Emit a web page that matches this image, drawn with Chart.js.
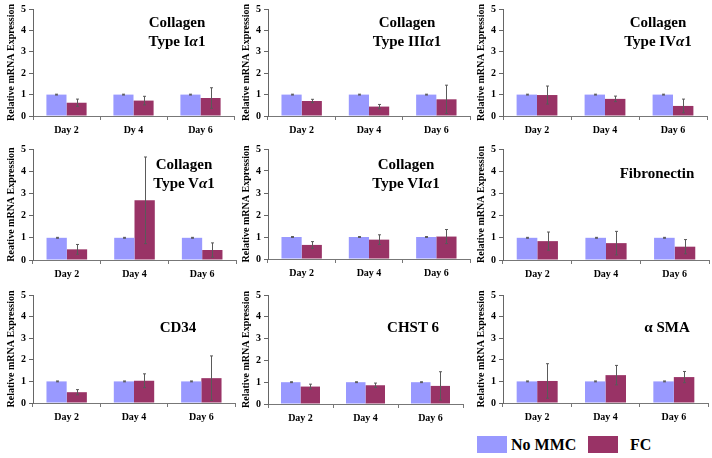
<!DOCTYPE html>
<html>
<head>
<meta charset="utf-8">
<script src="https://cdn.jsdelivr.net/npm/chart.js@4"></script>
<style>
    body { margin: 0; background: #fff; width: 712px; height: 458px; position: relative; overflow: hidden; font-family: "Liberation Serif", serif; }
    canvas { position: absolute; }
    .title { position: absolute; font-weight: bold; font-size: 15px; line-height: 19px; text-align: center; white-space: nowrap; transform: translateX(-50%); color: #000; }
    .key { position: absolute; width: 30px; height: 17px; }
    .keytext { position: absolute; font-weight: bold; font-size: 16px; line-height: 17px; color: #000; }
</style>
</head>
<body>
<div class="key" style="left:477px;top:436px;background:#9999ff"></div>
<div class="keytext" style="left:511px;top:436px">No MMC</div>
<div class="key" style="left:588px;top:436px;background:#993366"></div>
<div class="keytext" style="left:630px;top:436px">FC</div>
<script>
// categories
const days = ["Day 2", "Day 4", "Day 6"];
const daysTypo = ["Day 2", "Dy 4", "Day 6"];

// control group (normalised to 1)
const noMmcValues = [1, 1, 1];
const noMmcErr = [0.02, 0.02, 0.02];

// FC group, per gene
const col1Fc = [0.62, 0.72, 0.84];
const col1Err = [0.17, 0.2, 0.48];
const col3Fc = [0.7, 0.44, 0.78];
const col3Err = [0.08, 0.1, 0.66];
const col4Fc = [0.98, 0.8, 0.47];
const col4Err = [0.42, 0.13, 0.32];
const col5Fc = [0.48, 2.69, 0.45];
const col5Err = [0.22, 1.95, 0.32];
const col6Fc = [0.64, 0.88, 1.02];
const col6Err = [0.15, 0.22, 0.32];
const fibFc = [0.85, 0.76, 0.6];
const fibErr = [0.41, 0.53, 0.32];
const cd34Fc = [0.5, 1.03, 1.15];
const cd34Err = [0.12, 0.32, 1.03];
const chstFc = [0.8, 0.86, 0.83];
const chstErr = [0.11, 0.1, 0.65];
const smaFc = [1.02, 1.29, 1.2];
const smaErr = [0.8, 0.45, 0.26];

// y axis ticks
const yMin = 0;
const yMax = 5;
const yStep = 1;

const yTitle = "Relative mRNA Expression";
const yTitleTypo = "Reative mRNA Expression";

const panels = [
    { fc: col1Fc, err: col1Err, labels: daysTypo, yLabel: yTitle, title: ["Collagen", "Type I<i>α</i>1"],
      left: 33, right: 234, top: 8, bottom: 116, tx: 177, ty: 13 },
    { fc: col3Fc, err: col3Err, labels: days, yLabel: yTitle, title: ["Collagen", "Type III<i>α</i>1"],
      left: 268, right: 470, top: 8, bottom: 116, tx: 407, ty: 13 },
    { fc: col4Fc, err: col4Err, labels: days, yLabel: yTitle, title: ["Collagen", "Type IV<i>α</i>1"],
      left: 503, right: 707, top: 8, bottom: 116, tx: 658, ty: 13 },
    { fc: col5Fc, err: col5Err, labels: days, yLabel: yTitleTypo, title: ["Collagen", "Type V<i>α</i>1"],
      left: 33, right: 236, top: 148, bottom: 260, tx: 184, ty: 155 },
    { fc: col6Fc, err: col6Err, labels: days, yLabel: yTitle, title: ["Collagen", "Type VI<i>α</i>1"],
      left: 268, right: 470, top: 148, bottom: 259, tx: 406, ty: 155 },
    { fc: fibFc, err: fibErr, labels: days, yLabel: yTitle, title: ["Fibronectin"],
      left: 503, right: 709, top: 148, bottom: 260, tx: 657, ty: 164 },
    { fc: cd34Fc, err: cd34Err, labels: days, yLabel: yTitle, title: ["CD34"],
      left: 33, right: 235, top: 294, bottom: 403, tx: 178, ty: 318 },
    { fc: chstFc, err: chstErr, labels: days, yLabel: yTitle, title: ["CHST 6"],
      left: 268, right: 463, top: 294, bottom: 404, tx: 413, ty: 318 },
    { fc: smaFc, err: smaErr, labels: days, yLabel: yTitle, title: ["α SMA"],
      left: 503, right: 708, top: 294, bottom: 403, tx: 667, ty: 318 }
];

const AXIS_W = 33;
const XAXIS_H = 30;
const PAD_TOP = 8;
const PAD_RIGHT = 4;

const errorBarPlugin = {
    id: "errorBars",
    afterDatasetsDraw(chart) {
        const ctx = chart.ctx;
        const yScale = chart.scales.y;
        ctx.save();
        ctx.strokeStyle = "#5a5a5a";
        ctx.lineWidth = 1;
        chart.data.datasets.forEach((ds, i) => {
            if (!ds.errorBars) return;
            const meta = chart.getDatasetMeta(i);
            meta.data.forEach((bar, j) => {
                const v = ds.data[j];
                const e = ds.errorBars[j];
                const x = Math.round(bar.x) + 0.5;
                const yTop = yScale.getPixelForValue(v + e);
                const yBot = yScale.getPixelForValue(Math.max(0, v - e));
                ctx.beginPath();
                ctx.moveTo(x, yTop);
                ctx.lineTo(x, yBot);
                ctx.moveTo(x - 1.5, yTop);
                ctx.lineTo(x + 1.5, yTop);
                ctx.moveTo(x - 1.5, yBot);
                ctx.lineTo(x + 1.5, yBot);
                ctx.stroke();
            });
        });
        ctx.restore();
    }
};

function makePanel(p) {
    const canvas = document.createElement("canvas");
    const w = p.right - p.left + AXIS_W + PAD_RIGHT;
    const h = p.bottom - p.top + PAD_TOP + XAXIS_H;
    canvas.width = w;
    canvas.height = h;
    canvas.style.left = (p.left - AXIS_W) + "px";
    canvas.style.top = (p.top - PAD_TOP) + "px";
    canvas.style.width = w + "px";
    canvas.style.height = h + "px";
    document.body.appendChild(canvas);

    const title = document.createElement("div");
    title.className = "title";
    title.style.left = p.tx + "px";
    title.style.top = p.ty + "px";
    title.innerHTML = p.title.join("<br>");
    document.body.appendChild(title);

    new Chart(canvas.getContext("2d"), {
        type: "bar",
        data: {
            labels: p.labels,
            datasets: [
                {
                    label: "No MMC",
                    data: noMmcValues,
                    errorBars: noMmcErr,
                    backgroundColor: "#9999ff",
                    borderWidth: 0
                },
                {
                    label: "FC",
                    data: p.fc,
                    errorBars: p.err,
                    backgroundColor: "#993366",
                    borderWidth: 0
                }
            ]
        },
        options: {
            responsive: false,
            animation: false,
            events: [],
            layout: { padding: { top: PAD_TOP, right: PAD_RIGHT, left: 0, bottom: 0 } },
            datasets: { bar: { categoryPercentage: 0.6, barPercentage: 1.0 } },
            plugins: {
                legend: { display: false },
                tooltip: { enabled: false }
            },
            scales: {
                x: {
                    afterFit: (s) => { s.height = XAXIS_H; },
                    border: { display: true, color: "#777", width: 1 },
                    grid: { display: true, drawOnChartArea: false, tickLength: 4, color: "#777", offset: true },
                    ticks: {
                        autoSkip: false,
                        maxRotation: 0,
                        padding: 4,
                        color: "#000",
                        font: { family: "Liberation Serif", size: 10, weight: "bold" }
                    }
                },
                y: {
                    min: yMin,
                    max: yMax,
                    afterFit: (s) => { s.width = AXIS_W; },
                    border: { display: true, color: "#666", width: 1 },
                    grid: { display: true, drawOnChartArea: false, tickLength: 4, color: "#666" },
                    ticks: {
                        stepSize: yStep,
                        padding: 3,
                        color: "#000",
                        font: { family: "Liberation Serif", size: 10, weight: "bold" }
                    },
                    title: {
                        display: true,
                        text: p.yLabel,
                        color: "#000",
                        padding: { top: 5, bottom: 0 },
                        font: { family: "Liberation Serif", size: 10, weight: "bold" }
                    }
                }
            }
        },
        plugins: [errorBarPlugin]
    });
}

panels.forEach(makePanel);
</script>
</body>
</html>
